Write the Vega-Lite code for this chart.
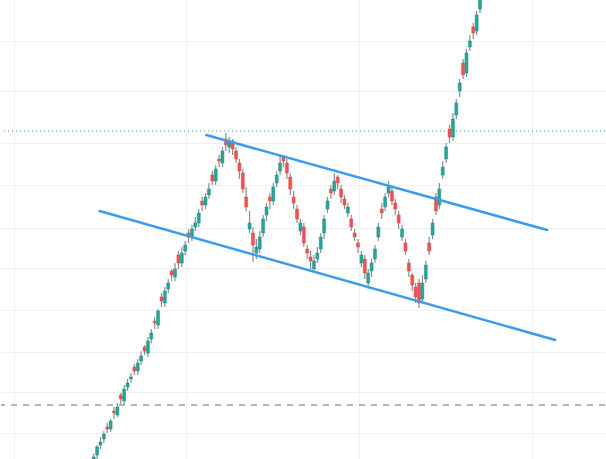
{
  "$schema": "https://vega.github.io/schema/vega-lite/v6.json",
  "autosize": {"type": "fit", "contains": "padding"},
  "width": 606,
  "height": 459,
  "padding": 0,
  "background": "#ffffff",
  "config": {
    "view": {"stroke": null},
    "axis": {"labels": false, "ticks": false, "domain": false, "title": null, "gridColor": "#efefef", "gridWidth": 1, "minExtent": 0, "maxExtent": 0, "offset": 0, "labelPadding": 0, "titlePadding": 0}
  },
  "datasets": {
    "candles": [
      {"i":0,"o":-4,"h":5,"l":-8,"c":2},
      {"i":1,"o":4,"h":14,"l":0,"c":12},
      {"i":2,"o":14,"h":22,"l":10,"c":17},
      {"i":3,"o":20,"h":28,"l":16,"c":25},
      {"i":4,"o":32,"h":36,"l":26,"c":30},
      {"i":5,"o":30,"h":40,"l":27,"c":38},
      {"i":6,"o":48,"h":52,"l":40,"c":46},
      {"i":7,"o":44,"h":56,"l":42,"c":52},
      {"i":8,"o":64,"h":66,"l":55,"c":60},
      {"i":9,"o":58,"h":74,"l":54,"c":70},
      {"i":10,"o":72,"h":80,"l":68,"c":76},
      {"i":11,"o":80,"h":86,"l":76,"c":82},
      {"i":12,"o":92,"h":95,"l":84,"c":88},
      {"i":13,"o":88,"h":100,"l":84,"c":96},
      {"i":14,"o":98,"h":108,"l":94,"c":103},
      {"i":15,"o":112,"h":114,"l":104,"c":108},
      {"i":16,"o":106,"h":122,"l":102,"c":118},
      {"i":17,"o":120,"h":130,"l":116,"c":126},
      {"i":18,"o":138,"h":142,"l":130,"c":136},
      {"i":19,"o":134,"h":150,"l":130,"c":148},
      {"i":20,"o":162,"h":166,"l":152,"c":158},
      {"i":21,"o":156,"h":172,"l":152,"c":168},
      {"i":22,"o":170,"h":180,"l":166,"c":176},
      {"i":23,"o":188,"h":190,"l":178,"c":184},
      {"i":24,"o":182,"h":196,"l":178,"c":190},
      {"i":25,"o":204,"h":208,"l":190,"c":196},
      {"i":26,"o":196,"h":212,"l":192,"c":206},
      {"i":27,"o":208,"h":218,"l":204,"c":214},
      {"i":28,"o":226,"h":230,"l":216,"c":222},
      {"i":29,"o":222,"h":234,"l":218,"c":230},
      {"i":30,"o":232,"h":242,"l":228,"c":236},
      {"i":31,"o":236,"h":250,"l":232,"c":246},
      {"i":32,"o":258,"h":262,"l":248,"c":254},
      {"i":33,"o":254,"h":266,"l":250,"c":262},
      {"i":34,"o":264,"h":276,"l":260,"c":270},
      {"i":35,"o":284,"h":288,"l":274,"c":278},
      {"i":36,"o":278,"h":294,"l":274,"c":290},
      {"i":37,"o":300,"h":304,"l":292,"c":298},
      {"i":38,"o":296,"h":312,"l":292,"c":308},
      {"i":39,"o":320,"h":326,"l":308,"c":314},
      {"i":40,"o":312,"h":322,"l":306,"c":318},
      {"i":41,"o":318,"h":320,"l":304,"c":310},
      {"i":42,"o":308,"h":312,"l":296,"c":300},
      {"i":43,"o":296,"h":300,"l":280,"c":288},
      {"i":44,"o":286,"h":290,"l":266,"c":270},
      {"i":45,"o":262,"h":272,"l":248,"c":252},
      {"i":46,"o":230,"h":248,"l":226,"c":236},
      {"i":47,"o":226,"h":232,"l":197,"c":214},
      {"i":48,"o":206,"h":220,"l":200,"c":212},
      {"i":49,"o":210,"h":228,"l":206,"c":222},
      {"i":50,"o":226,"h":244,"l":222,"c":240},
      {"i":51,"o":244,"h":256,"l":238,"c":252},
      {"i":52,"o":262,"h":266,"l":250,"c":258},
      {"i":53,"o":258,"h":276,"l":254,"c":272},
      {"i":54,"o":276,"h":288,"l":272,"c":284},
      {"i":55,"o":288,"h":304,"l":284,"c":296},
      {"i":56,"o":302,"h":304,"l":292,"c":298},
      {"i":57,"o":296,"h":300,"l":280,"c":286},
      {"i":58,"o":282,"h":286,"l":264,"c":270},
      {"i":59,"o":262,"h":268,"l":250,"c":256},
      {"i":60,"o":250,"h":254,"l":236,"c":240},
      {"i":61,"o":228,"h":240,"l":224,"c":236},
      {"i":62,"o":232,"h":236,"l":212,"c":216},
      {"i":63,"o":210,"h":214,"l":200,"c":206},
      {"i":64,"o":202,"h":208,"l":190,"c":198},
      {"i":65,"o":190,"h":204,"l":187,"c":198},
      {"i":66,"o":200,"h":212,"l":196,"c":206},
      {"i":67,"o":210,"h":226,"l":206,"c":222},
      {"i":68,"o":226,"h":244,"l":220,"c":240},
      {"i":69,"o":250,"h":262,"l":246,"c":258},
      {"i":70,"o":270,"h":274,"l":260,"c":266},
      {"i":71,"o":268,"h":286,"l":264,"c":278},
      {"i":72,"o":282,"h":284,"l":270,"c":276},
      {"i":73,"o":270,"h":274,"l":256,"c":262},
      {"i":74,"o":260,"h":264,"l":250,"c":254},
      {"i":75,"o":246,"h":256,"l":242,"c":252},
      {"i":76,"o":240,"h":244,"l":228,"c":232},
      {"i":77,"o":226,"h":230,"l":218,"c":222},
      {"i":78,"o":216,"h":220,"l":206,"c":212},
      {"i":79,"o":196,"h":208,"l":192,"c":204},
      {"i":80,"o":200,"h":204,"l":180,"c":186},
      {"i":81,"o":176,"h":190,"l":170,"c":186},
      {"i":82,"o":188,"h":200,"l":182,"c":196},
      {"i":83,"o":200,"h":214,"l":196,"c":210},
      {"i":84,"o":222,"h":236,"l":218,"c":232},
      {"i":85,"o":250,"h":256,"l":240,"c":246},
      {"i":86,"o":252,"h":266,"l":248,"c":262},
      {"i":87,"o":266,"h":278,"l":262,"c":272},
      {"i":88,"o":268,"h":272,"l":254,"c":258},
      {"i":89,"o":256,"h":260,"l":244,"c":250},
      {"i":90,"o":244,"h":248,"l":230,"c":236},
      {"i":91,"o":222,"h":234,"l":218,"c":230},
      {"i":92,"o":216,"h":220,"l":204,"c":208},
      {"i":93,"o":196,"h":200,"l":182,"c":188},
      {"i":94,"o":184,"h":186,"l":168,"c":174},
      {"i":95,"o":172,"h":176,"l":156,"c":162},
      {"i":96,"o":176,"h":180,"l":151,"c":156},
      {"i":97,"o":160,"h":184,"l":156,"c":176},
      {"i":98,"o":180,"h":198,"l":176,"c":194},
      {"i":99,"o":216,"h":222,"l":204,"c":208},
      {"i":100,"o":224,"h":240,"l":220,"c":236},
      {"i":101,"o":262,"h":266,"l":244,"c":248},
      {"i":102,"o":254,"h":276,"l":250,"c":270},
      {"i":103,"o":284,"h":298,"l":280,"c":292},
      {"i":104,"o":300,"h":316,"l":296,"c":312},
      {"i":105,"o":330,"h":334,"l":316,"c":322},
      {"i":106,"o":322,"h":346,"l":318,"c":340},
      {"i":107,"o":344,"h":360,"l":340,"c":356},
      {"i":108,"o":368,"h":380,"l":362,"c":376},
      {"i":109,"o":396,"h":400,"l":380,"c":384},
      {"i":110,"o":386,"h":410,"l":382,"c":406},
      {"i":111,"o":412,"h":424,"l":408,"c":418},
      {"i":112,"o":432,"h":436,"l":420,"c":426},
      {"i":113,"o":428,"h":448,"l":424,"c":444},
      {"i":114,"o":450,"h":470,"l":446,"c":460}
    ],
    "channel": [
      {"line":"upper","i":33.24,"p":324},
      {"line":"upper","i":133.82,"p":229},
      {"line":"lower","i":1.76,"p":248},
      {"line":"lower","i":136.18,"p":119}
    ],
    "levels": [
      {"kind":"dotted","p":328},
      {"kind":"dashed","p":54}
    ]
  },
  "layer": [
    {
      "data": {"name": "candles"},
      "mark": {"type": "rule", "color": "#8c8c8c", "strokeWidth": 1.2, "clip": true},
      "encoding": {
        "x": {"field": "i", "type": "quantitative", "scale": {"domain": [-27.353, 150.882], "nice": false, "zero": false, "padding": 0},
              "axis": {"values": [-23.5, 27.2, 78.4, 129.3], "grid": true}},
        "y": {"field": "l", "type": "quantitative", "scale": {"domain": [0, 459], "nice": false, "zero": false, "padding": 0},
              "axis": {"values": [418, 368, 316, 274, 231, 191, 149, 107, 67, 26], "grid": true}},
        "y2": {"field": "h"}
      }
    },
    {
      "data": {"name": "levels"},
      "transform": [{"filter": "datum.kind === 'dotted'"}],
      "mark": {"type": "rule", "color": "#26a69a", "strokeWidth": 1, "strokeDash": [1, 3]},
      "encoding": {"y": {"field": "p", "type": "quantitative"}}
    },
    {
      "data": {"name": "levels"},
      "transform": [{"filter": "datum.kind === 'dashed'"}],
      "mark": {"type": "rule", "color": "#9e9e9e", "strokeWidth": 1.3, "strokeDash": [6, 6]},
      "encoding": {"y": {"field": "p", "type": "quantitative"}}
    },
    {
      "data": {"name": "candles"},
      "mark": {"type": "bar", "size": 3, "clip": true, "strokeWidth": 0.5},
      "encoding": {
        "x": {"field": "i", "type": "quantitative"},
        "y": {"field": "o", "type": "quantitative"},
        "y2": {"field": "c"},
        "color": {"condition": {"test": "datum.c >= datum.o", "value": "#26a69a"}, "value": "#ef5350"},
        "stroke": {"condition": {"test": "datum.c >= datum.o", "value": "#1e8a80"}, "value": "#d84a47"}
      }
    },
    {
      "data": {"name": "channel"},
      "mark": {"type": "line", "color": "#3d9be9", "strokeWidth": 2.5, "strokeCap": "round"},
      "encoding": {
        "x": {"field": "i", "type": "quantitative"},
        "y": {"field": "p", "type": "quantitative"},
        "detail": {"field": "line"}
      }
    }
  ]
}
